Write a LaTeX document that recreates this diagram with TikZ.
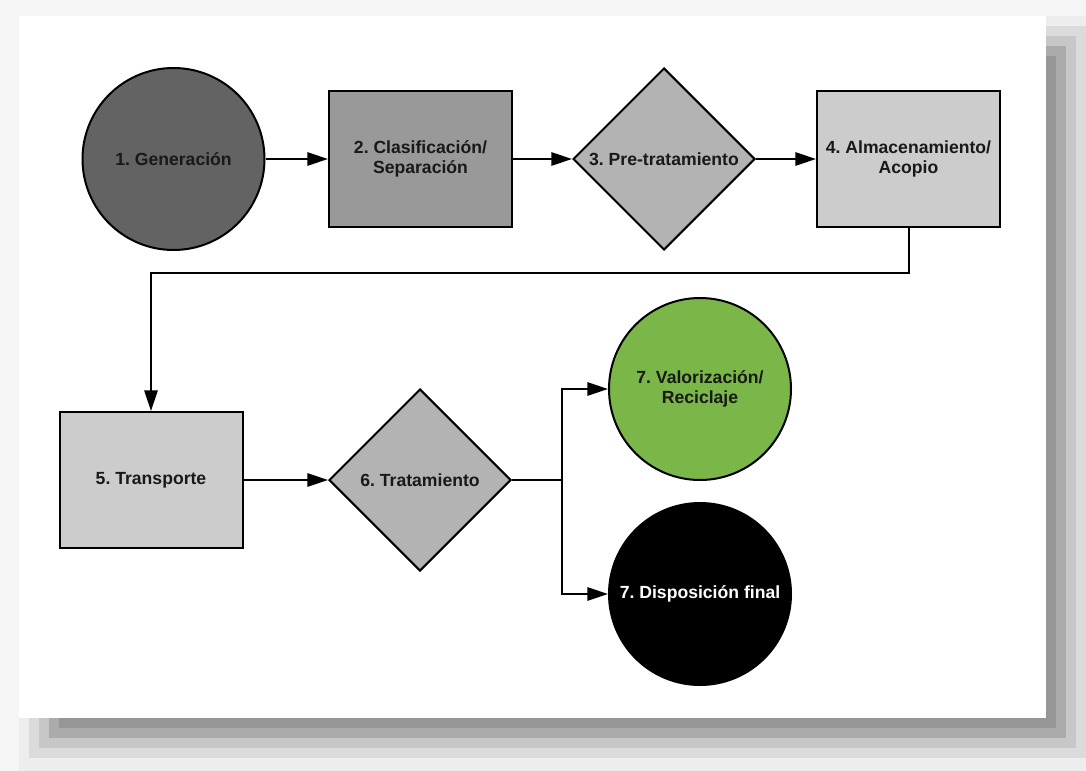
\documentclass[tikz,border=0pt]{standalone}
\usepackage{fontspec}
\setmainfont{Liberation Sans}
\usetikzlibrary{shapes.geometric,arrows.meta}
\tikzset{every picture/.style={line width=0.75pt}}
\frenchspacing

\begin{document}
\begin{tikzpicture}[x=0.75pt,y=0.75pt,yscale=-1,
  stage/.style={draw=black,line width=1.5pt,inner sep=0pt,align=center,text={rgb,255:red,25;green,25;blue,25},
    font=\fontsize{13.2}{15}\selectfont\bfseries},
  roundstage/.style={stage,circle,minimum size=136.5pt},
  boxstage/.style={stage,rectangle,minimum width=137.25pt,minimum height=102pt},
  choicestage/.style={stage,diamond,minimum width=136.5pt,minimum height=136.5pt},
  flowline/.style={line width=1.5pt,-{Triangle[length=15.5pt,width=10pt]}},
  plainline/.style={line width=1.5pt}]
%set diagram size 1086 x 771
\useasboundingbox (0,0) rectangle (1086,771);

%Background and card shadow
\fill[black!4] (0,0) rectangle (1086,771);
\foreach \xa/\ya/\xb/\yb/\p in {19/16/1086/771/7,29/26/1086/758/14,39/36/1076/748/22,49/46/1066/738/33,59/56/1056/728/41}
  \fill[black!\p] (\xa,\ya) rectangle (\xb,\yb);
%Shape: Card
\fill[white] (19,16) rectangle (1046,718);

%Shape: Circle
\node[roundstage,fill={rgb,255:red,99;green,99;blue,99}] (gen) at (173.5,159) {1. Generación};
%Shape: Rectangle
\node[boxstage,fill={rgb,255:red,153;green,153;blue,153}] (clas) at (420.5,159) {2. Clasificación/\\Separación};
%Shape: Diamond
\node[choicestage,fill={rgb,255:red,179;green,179;blue,179}] (pre) at (664,159) {3. Pre-tratamiento};
%Shape: Rectangle
\node[boxstage,fill={rgb,255:red,204;green,204;blue,204}] (alm) at (908.5,159) {4. Almacenamiento/\\Acopio};
%Shape: Rectangle
\node[boxstage,fill={rgb,255:red,204;green,204;blue,204}] (trans) at (151,480) {5. Transporte};
%Shape: Diamond
\node[choicestage,fill={rgb,255:red,179;green,179;blue,179}] (trat) at (420,480) {6. Tratamiento};
%Shape: Circle
\node[roundstage,fill={rgb,255:red,122;green,182;blue,72}] (val) at (700,389) {7. Valorización/\\Reciclaje};
%Shape: Circle
\node[roundstage,fill=black,text=white] (disp) at (700,594) {7. Disposición final};

%Connectors
\coordinate (bend) at (151,273);
\coordinate (split) at (562,480);
\draw[flowline] (gen) -- (clas);
\draw[flowline] (clas) -- (pre);
\draw[flowline] (pre) -- (alm);
\draw[flowline] (alm.south) |- (bend) -- (trans.north);
\draw[flowline] (trans) -- (trat);
\draw[plainline] (trat.east) -- (split);
\draw[flowline] (split) |- (val.west);
\draw[flowline] (split) |- (disp.west);

\end{tikzpicture}
\end{document}
